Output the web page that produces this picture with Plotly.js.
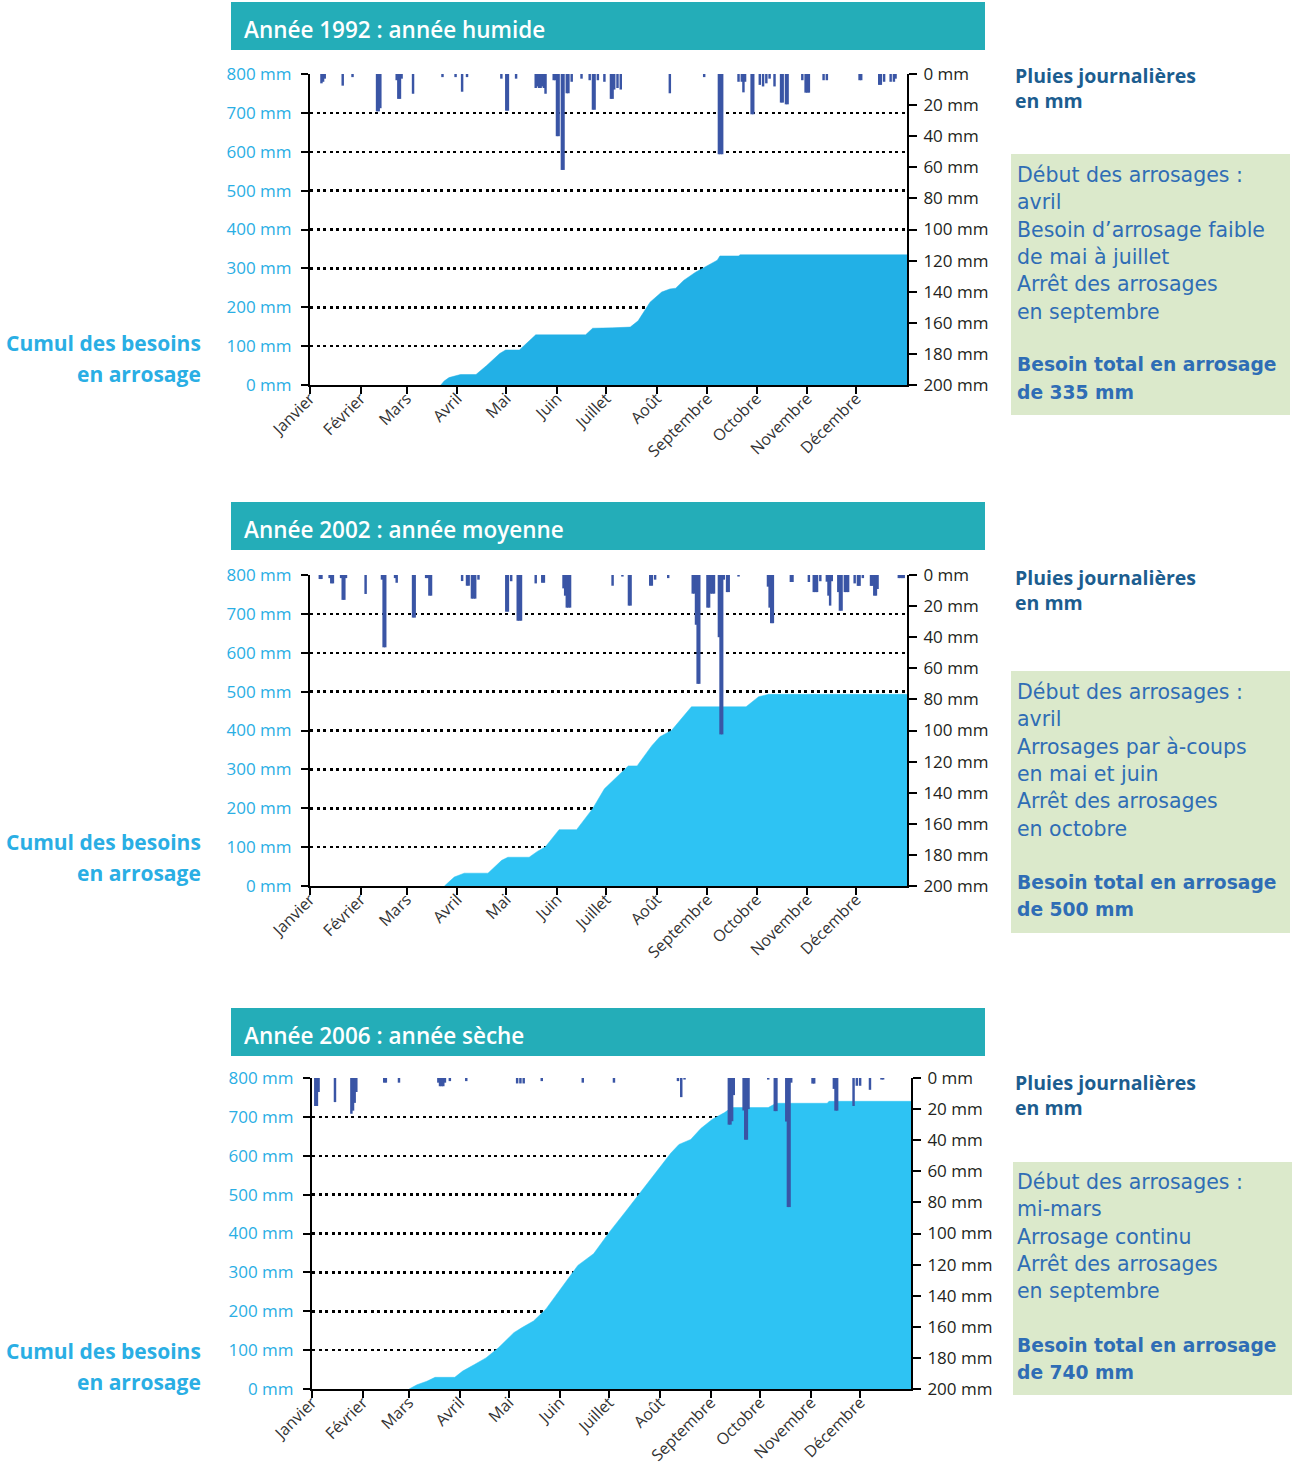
<!DOCTYPE html>
<html><head><meta charset="utf-8">
<script src="https://cdn.plot.ly/plotly-3.0.1.min.js"></script>
<style>html,body{margin:0;padding:0;background:#fff}#chart{width:1293px;height:1465px}</style>
</head><body><div id="chart"></div><script>
// ---------- DATA ----------
const months = ["Janvier","Février","Mars","Avril","Mai","Juin","Juillet","Août","Septembre","Octobre","Novembre","Décembre"];
const monthStartDays = [0,31,59,90,120,151,181,212,243,273,304,334];
const leftTickVals = [0,100,200,300,400,500,600,700,800];
const rightTickVals = [0,20,40,60,80,100,120,140,160,180,200];

const panelTitles = ["Année 1992 : année humide","Année 2002 : année moyenne","Année 2006 : année sèche"];

// Cumulative irrigation needs (day of year, mm)
const cum1992Days = [80,82,85,92,101.5,108,116,119.6,128,133,138,168.5,172.8,185,195.8,200.6,207.9,215,220,223.6,228.4,235.7,243,249,250.6,262,263,365];
const cum1992Vals = [0,10,19,27,27,50,81,90,90,110,129,129,146,147,149,165,213,239,247,249,269,290,308,321,332,332,335,335];
const cum2002Days = [82.2,88.2,94.3,108.8,117.2,121,134,139,143.8,152.3,163,172.8,180,187.3,194.6,200,209,213.9,221,226,233.2,266.6,274.3,280.4,365];
const cum2002Vals = [0,23,33,33,66,74,74,89,100,145,145,199,250,280,309,309,361,384,400,425,461,461,487,493,493];
const cum2006Days = [59.2,64,70,75,87,91.8,99,106,113.6,123,128,135,142.6,152.3,162,171.6,181.3,191,200.6,210.3,218.7,223.6,230.8,236.9,244,251.4,255.7,278,282.8,314,315,365];
const cum2006Vals = [0,11,20,30,30,46,63,80,106,145,158,175,206,262,318,348,404,456,508,560,607,629,642,670,694,711,724,724,735,735,740,740];

// Daily rainfall (day of year, mm)
const rain1992Days = [7,8,9,20,26,41,42,43,53,54,55,56,63,81,89,93,96,117,120,121,126,138,139,140,141,142,143,144,149,150,151,152,154,155,157,158,160,166,171,173,174,176,180,184,185,186,188,190,220,241,250,251,252,262,264,265,266,270,271,275,277,279,281,284,288,289,291,292,301,303,304,305,314,316,336,337,348,349,351,355,357,358];
const rain1992Vals = [6,5,3,7.5,2,24,24,22,4,16,16,3,12.7,2,2,11.4,2,3,23.6,23.6,3,9,8,9,9,8,9,12.7,4,4,40,40,61.7,61.7,12.4,12.4,5,3,4,23,23,4,5,16,16,10,9,10,12.4,2,51.6,51.6,51.6,5,5,11.8,5,25.9,25.9,7,8,6,3,8,18.4,18.4,19.5,19.5,4,12,12,12,4,4,4,4,7,7,5,5,5,3];
const rain2002Days = [6,7,12,13,14,19,20,21,22,34,44,45,46,52,53,63,64,71,72,73,74,93,96,97,99,100,101,103,120,121,123,127,128,129,138,142,143,155,156,157,158,159,185,191,195,196,208,209,211,219,234,235,236,237,238,243,244,245,246,247,250,251,252,253,255,256,262,280,281,282,283,294,295,305,308,309,310,312,316,317,318,319,323,324,325,327,328,329,333,335,336,338,343,344,345,346,347,360,361,362,363];
const rain2002Vals = [2.6,2.6,2,5.4,5.4,2,16,16,2,12.2,3,46.5,46.5,2,5,27.4,27.4,2,2,13.3,13.3,3.9,6.9,6.9,15.2,15.2,15.2,3,23.6,23.6,4,29.4,29.4,29.4,5.4,5,5,8.6,13.3,21,21,21,6.9,1,19.7,19.7,6.9,6.9,3,2,12,12,32,70,70,21,21,12,12,12,40,102.5,102.5,3,11,11,1,7.5,21,31,31,4.5,4.5,4.5,11,11,11,4,4.3,13.3,19.7,4,11,23,23,11,11,11,5.4,7,7,2,7,7,13.3,13.3,9,2,2,2,2];
const rain2006Days = [2,3,4,14,24,25,26,27,44,45,53,77,78,79,80,81,84,94,125,127,129,140,165,184,223,225,227,254,255,256,257,263,264,265,266,278,282,283,289,290,291,292,305,306,318,319,320,330,332,334,340,347,348];
const rain2006Vals = [18,18,9,15.5,23,21,16,9,3,3,3,3,5.3,5.3,5.3,3,2,2,3.5,3.5,3.5,2,3,3,2,12.3,1,30,30,27.8,11,20.9,39.7,39.7,20,1,21.3,21.3,28,83,83,3,3.6,3.6,7,21,21,18,5,5,7.6,1,1];

const boxLines = [
  ["Début des arrosages :","avril","Besoin d’arrosage faible","de mai à juillet","Arrêt des arrosages","en septembre"],
  ["Début des arrosages :","avril","Arrosages par à-coups","en mai et juin","Arrêt des arrosages","en octobre"],
  ["Début des arrosages :","mi-mars","Arrosage continu","Arrêt des arrosages","en septembre"]
];
const boxTotals = [
  ["Besoin total en arrosage","de 335 mm"],
  ["Besoin total en arrosage","de 500 mm"],
  ["Besoin total en arrosage","de 740 mm"]
];
const leftLabel = ["Cumul des besoins","en arrosage"];
const rightLabel = ["Pluies journalières","en mm"];

// ---------- LAYOUT ----------
const W = 1293, H = 1465;
const FONT = "Open Sans, Noto Sans, sans-serif";
const BOXFONT = "DejaVu Sans, Verdana, sans-serif";
const px = v => v / W, py = v => 1 - v / H;

const panels = [
  {cumD: cum1992Days, cumV: cum1992Vals, rD: rain1992Days, rV: rain1992Vals, area: "#22b0e6",
   x0: 310, x1: 907, top: 74, bot: 385, banner: 2, box: [1011, 154, 1290, 415], boxTextX: 1017, firstLine: 175, totalLine: 365, pluie: 87.5, cumul: 343},
  {cumD: cum2002Days, cumV: cum2002Vals, rD: rain2002Days, rV: rain2002Vals, area: "#2ec3f3",
   x0: 310, x1: 907, top: 575, bot: 886, banner: 502, box: [1011, 671, 1290, 933], boxTextX: 1017, firstLine: 692, totalLine: 882, pluie: 589.5, cumul: 842},
  {cumD: cum2006Days, cumV: cum2006Vals, rD: rain2006Days, rV: rain2006Vals, area: "#2ec3f3",
   x0: 312, x1: 911, top: 1078, bot: 1389, banner: 1008, box: [1013, 1162, 1292, 1395], boxTextX: 1017, firstLine: 1182, totalLine: 1345, pluie: 1094.5, cumul: 1351}
];

const data = [];
const layout = {
  width: W, height: H, margin: {l: 0, r: 0, t: 0, b: 0},
  paper_bgcolor: "#fff", plot_bgcolor: "rgba(0,0,0,0)",
  showlegend: false, font: {family: FONT}, shapes: [], annotations: []
};
const LINE_H = 27.3;

panels.forEach((p, i) => {
  const n = i + 1;
  const xa = n === 1 ? "x" : "x" + n;
  const yl = "y" + (2 * i + 1 === 1 ? "" : 2 * i + 1);
  const yr = "y" + (2 * i + 2);
  const xKey = n === 1 ? "xaxis" : "xaxis" + n;
  const ylKey = 2 * i + 1 === 1 ? "yaxis" : "yaxis" + (2 * i + 1);
  const yrKey = "yaxis" + (2 * i + 2);

  data.push({type: "scatter", mode: "lines", x: p.cumD, y: p.cumV, xaxis: xa, yaxis: yl,
    fill: "tozeroy", fillcolor: p.area, line: {color: p.area, width: 0.5}, hoverinfo: "skip"});
  data.push({type: "bar", x: p.rD, y: p.rV, xaxis: xa, yaxis: yr, width: 1.5,
    marker: {color: "#3a55a5", line: {width: 0}}, hoverinfo: "skip"});

  const xdom = [px(p.x0), px(p.x1)];
  const ydom = [py(p.bot), py(p.top)];
  layout[xKey] = {domain: xdom, anchor: yl, range: [0, 365], tickmode: "array", tickvals: monthStartDays, ticktext: months,
    tickangle: -45, ticks: "outside", ticklen: 7, tickwidth: 2, tickcolor: "#000", showline: true, linewidth: 2, linecolor: "#000",
    showgrid: false, zeroline: false, tickfont: {family: FONT, size: 16, color: "#333"}, ticklabelstandoff: -11, fixedrange: true};
  layout[ylKey] = {domain: ydom, anchor: xa, range: [0, 800], tickmode: "array", tickvals: leftTickVals,
    ticktext: leftTickVals.map(v => v + " mm"), ticks: "outside", ticklen: 7, tickwidth: 2, tickcolor: "#000",
    showline: true, linewidth: 2, linecolor: "#000", showgrid: true, gridcolor: "#000", gridwidth: 2.5, griddash: "3px,3.5px",
    zeroline: false, tickfont: {family: FONT, size: 17, color: "#2aaee4"}, ticklabelstandoff: 6, fixedrange: true};
  layout[yrKey] = {overlaying: yl, side: "right", anchor: xa, range: [200, 0], tickmode: "array", tickvals: rightTickVals,
    ticktext: rightTickVals.map(v => v + " mm"), ticks: "outside", ticklen: 8, tickwidth: 2, tickcolor: "#000",
    showline: true, linewidth: 2, linecolor: "#000", showgrid: false, zeroline: false,
    tickfont: {family: FONT, size: 17, color: "#231f20"}, ticklabelstandoff: 3, fixedrange: true};

  // Banner
  layout.shapes.push({type: "rect", xref: "paper", yref: "paper", x0: px(231), x1: px(985), y0: py(p.banner + 48), y1: py(p.banner),
    fillcolor: "#24adb8", line: {width: 0}, layer: "below"});
  layout.annotations.push({xref: "paper", yref: "paper", x: px(242), y: py(p.banner + 27), xanchor: "left", yanchor: "middle",
    text: panelTitles[i], showarrow: false, font: {family: FONT, size: 22.5, color: "#fff", weight: 600}});
  // Green box
  layout.shapes.push({type: "rect", xref: "paper", yref: "paper", x0: px(p.box[0]), x1: px(p.box[2]), y0: py(p.box[3]), y1: py(p.box[1]),
    fillcolor: "#dbe9cb", line: {width: 0}, layer: "below"});
  boxLines[i].forEach((t, k) => layout.annotations.push({xref: "paper", yref: "paper", x: px(p.boxTextX - 2), y: py(p.firstLine + k * LINE_H),
    xanchor: "left", yanchor: "middle", text: t, showarrow: false, font: {family: BOXFONT, size: 20.5, color: "#2f6db5"}}));
  boxTotals[i].forEach((t, k) => layout.annotations.push({xref: "paper", yref: "paper", x: px(p.boxTextX - 2), y: py(p.totalLine + k * LINE_H),
    xanchor: "left", yanchor: "middle", text: t, showarrow: false, font: {family: BOXFONT, size: 18.7, color: "#2f6db5", weight: "bold"}}));
  // Side labels
  layout.annotations.push({xref: "paper", yref: "paper", x: px(1013), y: py(p.pluie), align: "left",
    xanchor: "left", yanchor: "middle", text: rightLabel.join("<br>"), showarrow: false,
    font: {family: FONT, size: 19.5, color: "#1c5d8f", weight: "bold"}});
  leftLabel.forEach((t, k) => layout.annotations.push({xref: "paper", yref: "paper", x: px(203), y: py(p.cumul + k * 31),
    xanchor: "right", yanchor: "middle", text: t, showarrow: false, font: {family: FONT, size: 21, color: "#2aaee4", weight: "bold"}}));
});

Plotly.newPlot("chart", data, layout, {displayModeBar: false, staticPlot: true});
</script></body></html>
